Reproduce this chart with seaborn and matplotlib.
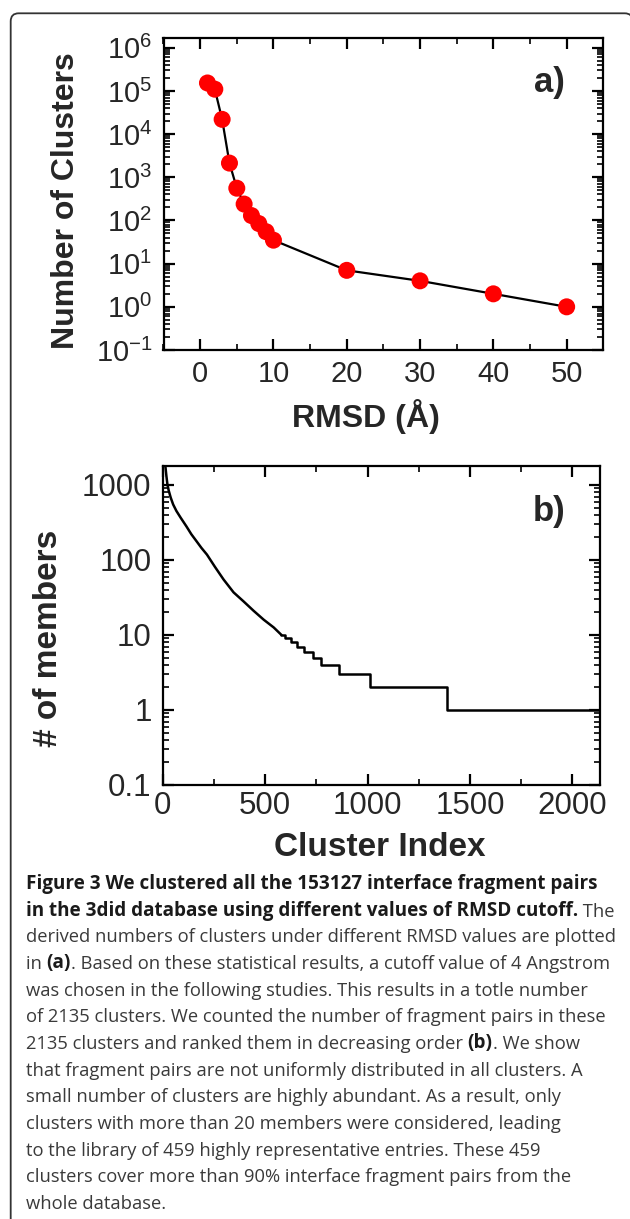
import numpy as np
import matplotlib
matplotlib.use("Agg")
import matplotlib.pyplot as plt
import seaborn as sns
from matplotlib.patches import FancyBboxPatch
from matplotlib.ticker import (MultipleLocator, LogLocator, FixedLocator,
                               FuncFormatter, NullFormatter)

# panel a: number of clusters at each RMSD cutoff
rmsd = [1, 2, 3, 4, 5, 6, 7, 8, 9, 10, 20, 30, 40, 50]
n_clusters = [153127, 110000, 22000, 2135, 560, 240, 130, 85, 55, 35, 7, 4, 2, 1]

# panel b: members per cluster, clusters ranked (smooth head + integer steps)
head_index = [1, 13, 18, 23, 29, 39, 51, 67, 88, 116, 140, 165, 189, 216,
              255, 297, 346, 395, 444, 493, 542, 580]
head_members = [2400, 1790, 1320, 1020, 850, 680, 550, 450, 365, 280, 220,
                178, 145, 118, 81, 55, 37, 28, 21, 16, 12.6, 10]
step_index = [580, 599, 624, 656, 692, 733, 774, 860, 1011, 1386, 2135]
step_members = [10, 9, 8, 7, 6, 5, 4, 3, 2, 1, 1]

caption = [
    [("Figure 3 We clustered all the 153127 interface fragment pairs", True)],
    [("in the 3did database using different values of RMSD cutoff.", True), (" The", False)],
    [("derived numbers of clusters under different RMSD values are plotted", False)],
    [("in ", False), ("(a)", True), (". Based on these statistical results, a cutoff value of 4 Angstrom", False)],
    [("was chosen in the following studies. This results in a totle number", False)],
    [("of 2135 clusters. We counted the number of fragment pairs in these", False)],
    [("2135 clusters and ranked them in decreasing order ", False), ("(b)", True), (". We show", False)],
    [("that fragment pairs are not uniformly distributed in all clusters. A", False)],
    [("small number of clusters are highly abundant. As a result, only", False)],
    [("clusters with more than 20 members were considered, leading", False)],
    [("to the library of 459 highly representative entries. These 459", False)],
    [("clusters cover more than 90% interface fragment pairs from the", False)],
    [("whole database.", False)],
]

sns.set_style("ticks")
plt.rcParams['font.family'] = ['Liberation Sans', 'DejaVu Sans']
plt.rcParams['mathtext.default'] = 'regular'

W, H = 630, 1219
fig = plt.figure(figsize=(W / 100, H / 100), dpi=100)

# background axes in pixel units: frame + caption
bg = fig.add_axes([0, 0, 1, 1], zorder=0)
bg.set_xlim(0, W)
bg.set_ylim(H, 0)
bg.axis('off')
bg.add_patch(FancyBboxPatch((10.7, 13.3), 622, 1260,
                            boxstyle="round,pad=0,rounding_size=8",
                            fc='white', ec='#333333', lw=1.3))


def panel_axes(left, top, right, bottom):
    return fig.add_axes([left / W, 1 - bottom / H, (right - left) / W, (bottom - top) / H], zorder=1)


def style_axes(ax, labelsize):
    for s in ax.spines.values():
        s.set_linewidth(1.6)
        s.set_color('black')
    ax.tick_params(which='both', direction='in', top=True, right=True, color='black')
    ax.tick_params(which='major', length=8, width=1.6, labelsize=labelsize)
    ax.tick_params(which='minor', length=4, width=1.2)


# ---- panel a ----
ax_a = panel_axes(163.5, 38.3, 603.3, 350)
ax_a.set_yscale('log')
sns.lineplot(x=rmsd, y=n_clusters, ax=ax_a, color='black', lw=1.6,
             estimator=None, sort=False, zorder=2)
sns.scatterplot(x=rmsd, y=n_clusters, ax=ax_a, color='#ff0000', s=150,
                edgecolor='none', zorder=3)
ax_a.set_xlim(-5, 55)
ax_a.set_ylim(0.1, 10 ** 6.22)
ax_a.xaxis.set_major_locator(MultipleLocator(10))
ax_a.xaxis.set_minor_locator(MultipleLocator(5))
ax_a.yaxis.set_major_locator(LogLocator(base=10, numticks=20))
ax_a.yaxis.set_minor_locator(LogLocator(base=10, subs=np.arange(2, 10), numticks=20))
ax_a.yaxis.set_minor_formatter(NullFormatter())
style_axes(ax_a, 21)
ax_a.tick_params(axis='y', which='major', pad=8)
ax_a.tick_params(axis='x', which='major', pad=7)
ax_a.set_xlabel("RMSD (Å)", fontsize=23, fontweight='bold')
ax_a.set_ylabel("Number of Clusters", fontsize=23, fontweight='bold')
ax_a.xaxis.set_label_coords(0.461, -0.214)
ax_a.xaxis.label.set_va('center')
ax_a.yaxis.set_label_coords(-0.222, 0.48)
ax_a.yaxis.label.set_va('center')
ax_a.text(0.9135, 0.857, "a)", transform=ax_a.transAxes, ha='right', va='center',
          fontsize=25, fontweight='bold')

# ---- panel b ----
ax_b = panel_axes(162.7, 466, 600, 785)
ax_b.set_yscale('log')
sns.lineplot(x=head_index, y=head_members, ax=ax_b, color='black', lw=1.8,
             estimator=None, sort=False)
sns.lineplot(x=step_index, y=step_members, ax=ax_b, color='black', lw=1.8,
             estimator=None, sort=False, drawstyle='steps-post')
ax_b.set_xlim(0, 2135)
ax_b.set_ylim(0.1, 10 ** 3.253)
ax_b.xaxis.set_major_locator(MultipleLocator(500))
ax_b.xaxis.set_minor_locator(MultipleLocator(250))
ax_b.yaxis.set_major_locator(FixedLocator([0.1, 1, 10, 100, 1000]))
ax_b.yaxis.set_major_formatter(FuncFormatter(lambda v, p: f"{v:g}"))
ax_b.yaxis.set_minor_locator(LogLocator(base=10, subs=np.arange(2, 10), numticks=20))
ax_b.yaxis.set_minor_formatter(NullFormatter())
style_axes(ax_b, 22.5)
ax_b.tick_params(axis='y', which='major', pad=8)
ax_b.tick_params(axis='x', which='major', pad=4)
ax_b.set_xlabel("Cluster Index", fontsize=24, fontweight='bold')
ax_b.set_ylabel("# of members", fontsize=24, fontweight='bold')
ax_b.xaxis.set_label_coords(0.496, -0.196)
ax_b.xaxis.label.set_va('center')
ax_b.yaxis.set_label_coords(-0.262, 0.461)
ax_b.yaxis.label.set_va('center')
ax_b.text(0.922, 0.857, "b)", transform=ax_b.transAxes, ha='right', va='center',
          fontsize=25, fontweight='bold')

# ---- caption ----
cap_font = ['Open Sans', 'DejaVu Sans']
renderer = fig.canvas.get_renderer()


def fit_size(text, weight, target):
    probe = bg.text(0, 0, text, fontsize=11, family=cap_font, fontweight=weight)
    w = probe.get_window_extent(renderer).width
    probe.remove()
    return 11 * target / w


reg_size = fit_size(caption[2][0][0], 'normal', 589)
bold_size = fit_size(caption[0][0][0], 'bold', 572)

x0, y0, dy = 26, 889, 26.67
for i, line in enumerate(caption):
    prev = None
    for txt, bold in line:
        kw = dict(fontsize=bold_size if bold else reg_size, family=cap_font,
                  fontweight='bold' if bold else 'normal',
                  color='#1a1a1a' if bold else '#3a3a3a')
        if prev is None:
            prev = bg.text(x0, y0 + i * dy, txt, ha='left', va='baseline', **kw)
        else:
            prev = bg.annotate(txt, xy=(1, 0), xycoords=prev, ha='left', va='bottom', **kw)

fig.savefig("out.png", dpi=100)
